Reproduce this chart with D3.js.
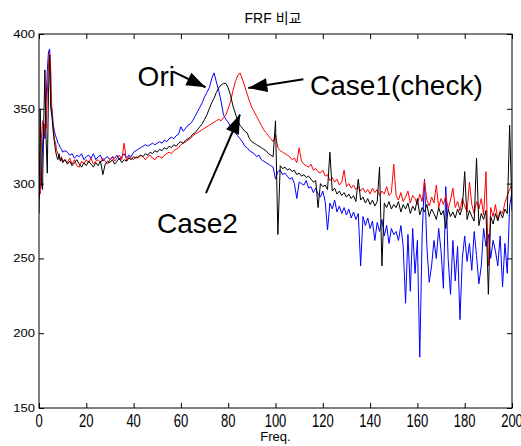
<!DOCTYPE html>
<html>
<head>
<meta charset="utf-8">
<script src="https://cdn.jsdelivr.net/npm/d3@7"></script>
<style>
  body { margin: 0; background: #fff; }
  text { font-family: "Liberation Sans", Arial, "Noto Sans CJK KR", sans-serif; }
</style>
</head>
<body>
<div id="container"></div>
<script>

// 0 .. 10 Hz sampled at 0.5 Hz, then 11 .. 200 Hz at 1 Hz
const freqLow = [0, 0.5, 1, 1.5, 2, 2.5, 3, 3.5, 4, 4.5, 5, 5.5, 6, 6.5, 7, 7.5, 8, 8.5, 9, 9.5, 10]
const freqHigh = d3.range(11, 201)
const freqs = freqLow.concat(freqHigh)

const oriValues = [
    290, 296, 300, 325, 340, 330, 355, 375, 388, 390, 352, 350, 340, 335, 332, 330, 327, 326, 324, 323, 321,
    322, 321, 319, 320, 317, 319, 318, 320, 316, 318,
    319, 317, 320, 316, 318, 319, 315, 317, 318, 316,
    318, 317, 319, 316, 318, 320, 317, 319, 318, 321,
    322, 323, 324, 325, 326, 325, 326, 327, 326, 327,
    328, 327, 329, 328, 330, 331, 330, 332, 333, 338,
    335, 337, 339, 340, 342, 345, 348, 351, 354, 358,
    361, 364, 370, 374, 368, 362, 355, 346, 343, 341,
    338, 336, 334, 332, 330, 328, 325, 324, 322, 321,
    320, 318, 319, 316, 315, 314, 313, 312, 311, 303,
    308, 309, 306, 307, 305, 303, 304, 300, 290, 301,
    300, 299, 302, 297, 298, 294, 297, 293, 291, 295,
    288, 269, 287, 283, 289, 281, 285, 280, 284, 279,
    283, 277, 281, 276, 280, 245, 278, 272, 277, 270,
    275, 262, 274, 268, 276, 265, 272, 260, 270, 266,
    268, 262, 272, 258, 220, 266, 228, 270, 240, 262,
    184, 265, 303, 258, 234, 245, 262, 250, 270, 255,
    230, 298, 250, 226, 262, 235, 258, 209, 250, 265,
    248, 260, 242, 268, 252, 233, 245, 270, 258, 266,
    250, 262, 255, 245, 265, 231, 260, 240, 285, 295
]

const case1Values = [
    300, 293, 330, 342, 330, 340, 337, 360, 380, 388, 375, 345, 338, 330, 327, 322, 320, 318, 316, 318, 315,
    316, 314, 317, 313, 316, 312, 311, 315, 313, 316,
    314, 317, 313, 315, 316, 314, 317, 315, 313, 316,
    318, 315, 317, 319, 316, 327, 315, 318, 317, 316,
    318, 317, 319, 318, 316, 318, 319, 317, 316, 318,
    318, 317, 319, 320, 321, 320, 322, 323, 324, 326,
    327, 328, 329, 330, 332, 333, 334, 335, 336, 337,
    338, 339, 340, 341, 342, 343, 342, 344, 346, 350,
    355, 362, 368, 372, 374, 370, 365, 360, 355, 351,
    348, 345, 342, 339, 336, 334, 332, 330, 328, 333,
    324, 322, 321, 320, 319, 318, 316, 317, 314, 324,
    315, 313, 312, 311, 313, 309, 310, 308, 307, 309,
    305, 306, 302, 304, 301, 303, 299, 301, 309, 298,
    300, 297, 299, 296, 298, 295, 297, 294, 296, 293,
    297, 294, 296, 292, 295, 293, 298, 292, 294, 313,
    292, 289, 294, 288, 291, 295, 287, 292, 290, 286,
    293, 288, 302, 289, 285, 291, 287, 299, 284, 290,
    286, 292, 283, 289, 297, 284, 288, 282, 290, 285,
    281, 301, 286, 280, 288, 283, 290, 279, 308, 245,
    284, 278, 286, 276, 282, 280, 287, 292, 296, 300
]

const case2Values = [
    280, 350, 300, 296, 340, 376, 330, 307, 360, 386, 350, 345, 335, 328, 322, 318, 316, 320, 315, 317, 314,
    316, 313, 315, 312, 314, 316, 313, 311, 314, 312,
    315, 313, 311, 314, 312, 315, 306, 313, 315, 314,
    316, 313, 315, 317, 314, 316, 315, 317, 316, 318,
    317, 318, 319, 318, 320, 319, 321, 320, 322, 321,
    323, 322, 324, 323, 325, 324, 326, 325, 327, 328,
    327, 329, 330, 331, 333, 334, 336, 338, 340, 343,
    346, 350, 354, 357, 361, 364, 366, 367, 367, 364,
    359, 352, 347, 342, 339, 337, 335, 334, 330, 328,
    327, 326, 325, 324, 323, 322, 320, 319, 318, 342,
    266, 312, 310, 311, 309, 310, 308, 309, 306, 307,
    305, 306, 304, 305, 303, 301, 302, 284, 300, 298,
    299, 296, 321, 295, 297, 293, 295, 292, 294, 291,
    293, 290, 292, 288, 303, 289, 291, 287, 290, 286,
    289, 285, 288, 311, 245, 287, 284, 288, 283, 286,
    284, 288, 281, 286, 283, 287, 280, 285, 282, 290,
    279, 284, 281, 286, 278, 283, 280, 276, 284, 279,
    282, 270, 283, 278, 281, 277, 283, 279, 284, 308,
    276, 282, 278, 275, 317, 272, 280, 276, 282, 226,
    278, 273, 280, 275, 281, 277, 283, 280, 339, 282
]

const xTicks = [0, 20, 40, 60, 80, 100, 120, 140, 160, 180, 200]
const yTicks = [150, 200, 250, 300, 350, 400]

// text + arrow annotations, in data units: label anchor, arrow tail, arrow tip
const annotations = [
    { label: "Ori", at: [41.7, 365.2], from: [56.7, 374.8], to: [70.4, 364.4] },
    { label: "Case1(check)", at: [114.6, 359.2], from: [111.8, 369.7], to: [88.5, 363.9] },
    { label: "Case2", at: [49.9, 267], from: [70.6, 293.7], to: [85, 346.2] }
]

const width = 521
const height = 446
const margin = { left: 39, top: 34, right: 9, bottom: 38 }

const svg = d3.select('#container')
    .append('svg').attr('width', width).attr('height', height)

svg.append('rect').attr('width', width).attr('height', height).attr('fill', '#fff')

const inner_width = width - margin.left - margin.right
const inner_height = height - margin.top - margin.bottom

const g = svg.append('g').attr('transform', 'translate(' + margin.left + ',' + margin.top + ')')

const xScale = d3.scaleLinear().domain([0, 200]).range([0, inner_width])
const yScale = d3.scaleLinear().domain([150, 400]).range([inner_height, 0])

// lines
const series = [
    { values: oriValues, color: '#0000ff' },
    { values: case1Values, color: '#ff0000' },
    { values: case2Values, color: '#000000' }
]

const line = d3.line()
    .x((d, i) => xScale(freqs[i]))
    .y(d => yScale(d))

g.append('defs').append('clipPath').attr('id', 'clip')
    .append('rect').attr('width', inner_width).attr('height', inner_height)

series.forEach(s => {
    g.append('path')
        .attr('d', line(s.values))
        .attr('fill', 'none')
        .attr('stroke', s.color)
        .attr('stroke-width', 1)
        .attr('clip-path', 'url(#clip)')
})

// axes, ticks pointing inwards on all four sides
const tick = 5
const axisStyle = sel => {
    sel.select('.domain').remove()
    sel.selectAll('line').attr('stroke', '#000')
    sel.selectAll('text').remove()
}
g.append('g').attr('transform', 'translate(0,' + inner_height + ')')
    .call(d3.axisBottom(xScale).tickValues(xTicks).tickSizeInner(-tick).tickSizeOuter(0)).call(axisStyle)
g.append('g')
    .call(d3.axisTop(xScale).tickValues(xTicks).tickSizeInner(-tick).tickSizeOuter(0)).call(axisStyle)
g.append('g')
    .call(d3.axisLeft(yScale).tickValues(yTicks).tickSizeInner(-tick).tickSizeOuter(0)).call(axisStyle)
g.append('g').attr('transform', 'translate(' + inner_width + ',0)')
    .call(d3.axisRight(yScale).tickValues(yTicks).tickSizeInner(-tick).tickSizeOuter(0)).call(axisStyle)

g.append('rect')
    .attr('width', inner_width).attr('height', inner_height)
    .attr('fill', 'none').attr('stroke', '#000').attr('stroke-width', 1)

// tick labels (the original font is tall on x, squat on y)
g.selectAll('.xlabel').data(xTicks).enter().append('text')
    .attr('class', 'xlabel')
    .attr('transform', d => 'translate(' + xScale(d) + ',' + (inner_height + 19) + ') scale(1,1.4)')
    .attr('text-anchor', 'middle')
    .attr('font-size', 13)
    .attr('fill', '#000')
    .text(d => d)

g.selectAll('.ylabel').data(yTicks).enter().append('text')
    .attr('class', 'ylabel')
    .attr('transform', d => 'translate(-4,' + (yScale(d) + 4) + ') scale(1,0.86)')
    .attr('text-anchor', 'end')
    .attr('font-size', 13)
    .attr('fill', '#000')
    .text(d => d)

svg.append('text')
    .attr('x', margin.left + inner_width / 2).attr('y', 441)
    .attr('text-anchor', 'middle').attr('font-size', 13)
    .text('Freq.')

svg.append('text')
    .attr('x', 273).attr('y', 23)
    .attr('text-anchor', 'middle').attr('font-size', 14)
    .text('FRF 비교')

// annotations
const arrowHead = (x1, y1, x2, y2, L, W) => {
    const dx = x2 - x1, dy = y2 - y1
    const len = Math.sqrt(dx * dx + dy * dy)
    const ux = dx / len, uy = dy / len
    const bx = x2 - ux * L, by = y2 - uy * L
    return 'M' + x2 + ',' + y2 +
        'L' + (bx - uy * W / 2) + ',' + (by + ux * W / 2) +
        'L' + (bx + uy * W / 2) + ',' + (by - ux * W / 2) + 'Z'
}

annotations.forEach(a => {
    g.append('text')
        .attr('x', xScale(a.at[0])).attr('y', yScale(a.at[1]))
        .attr('font-size', 28)
        .attr('fill', '#000')
        .text(a.label)
    const x1 = xScale(a.from[0]), y1 = yScale(a.from[1])
    const x2 = xScale(a.to[0]), y2 = yScale(a.to[1])
    g.append('line')
        .attr('x1', x1).attr('y1', y1).attr('x2', x2).attr('y2', y2)
        .attr('stroke', '#000').attr('stroke-width', 2)
    g.append('path')
        .attr('d', arrowHead(x1, y1, x2, y2, 19, 14))
        .attr('fill', '#000')
})
</script>
</body>
</html>
